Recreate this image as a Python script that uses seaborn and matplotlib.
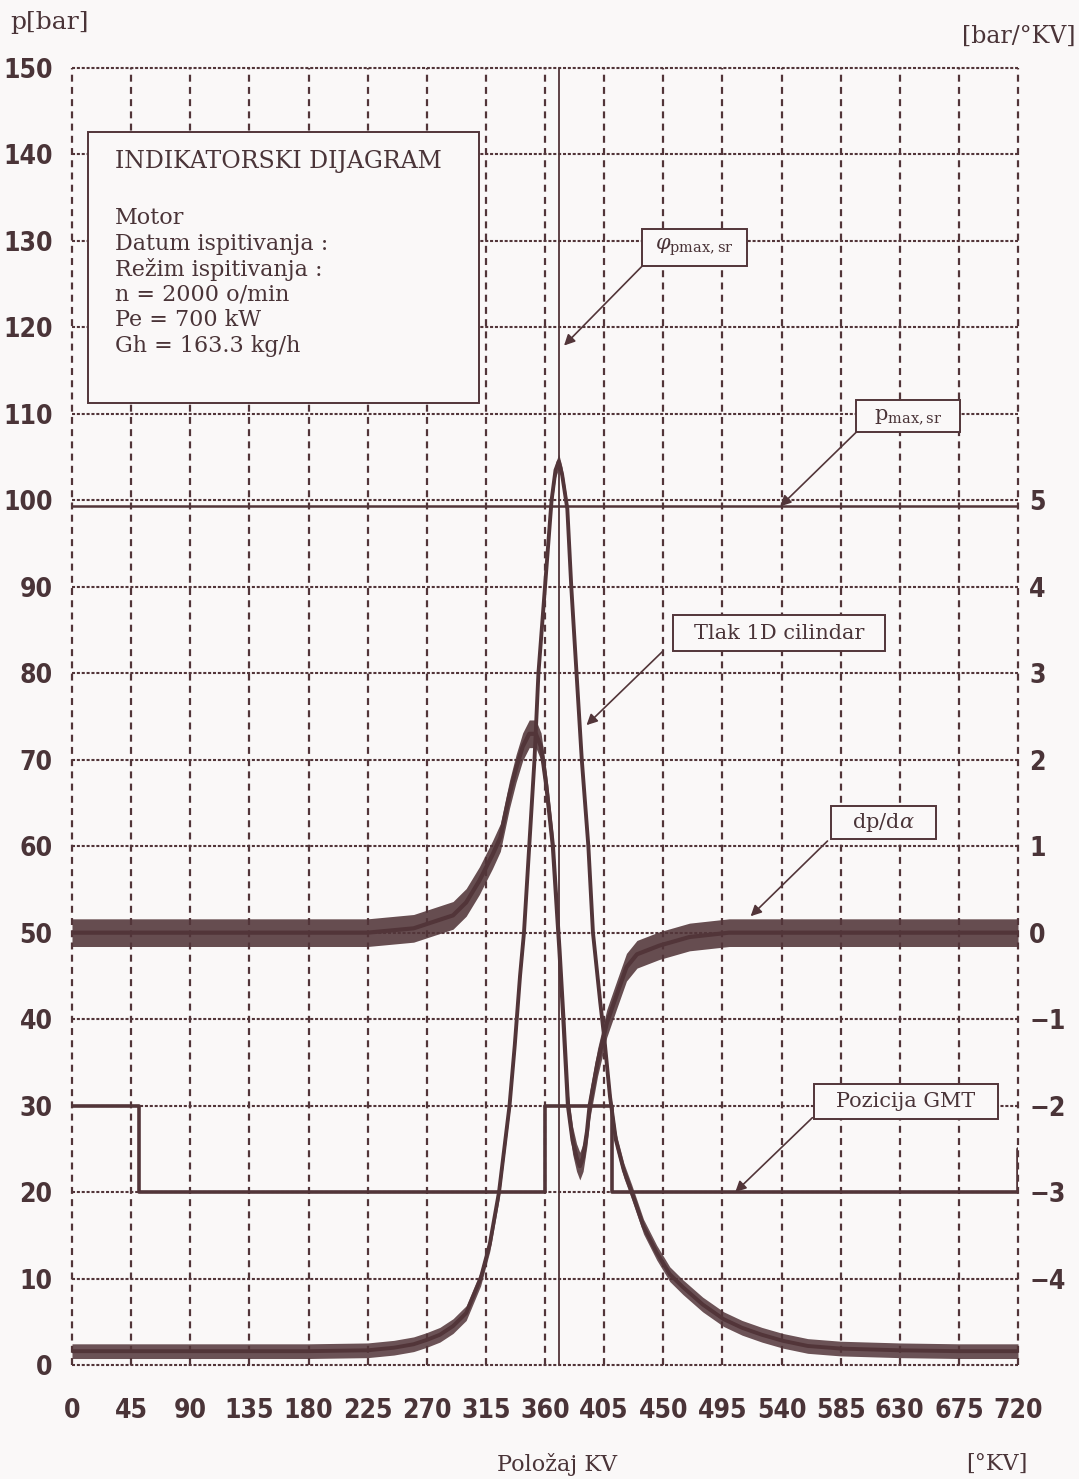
import numpy as np
import matplotlib.pyplot as plt
import matplotlib.patches as mpatches
from matplotlib import font_manager
import pandas as pd
import seaborn as sns

# tlak u cilindru 1D [bar], ocitano s dijagrama
kut_p = [0, 45, 90, 135, 180, 225, 245, 260, 270, 280, 290, 300, 311, 318,
         325, 329, 333, 337, 341, 344, 348, 352, 355, 360, 365, 368, 370.5,
         373, 377, 380, 384, 388, 393, 396.5, 402, 405, 409.5, 414, 420, 426,
         435, 445, 455, 465, 480, 496, 510, 525, 541, 560, 585, 630, 675, 720]
tlak_p = [1.6, 1.6, 1.6, 1.6, 1.6, 1.7, 2.0, 2.4, 2.9, 3.5, 4.5, 6.0, 10.0, 14.0,
          20.0, 25.0, 30.0, 37.0, 45.0, 50.0, 60.0, 70.0, 80.0, 90.0, 100.0, 103.5, 104.5,
          103.0, 99.0, 90.0, 80.0, 70.0, 60.0, 50.0, 42.0, 38.0, 31.0, 26.0, 22.5, 20.0,
          16.0, 13.0, 10.5, 9.0, 7.0, 5.3, 4.3, 3.5, 2.8, 2.2, 1.9, 1.7, 1.6, 1.6]

# dp/dalfa [bar/°KV]
kut_dp = [0, 45, 90, 135, 180, 225, 260, 280, 290, 300, 310, 320, 326, 333,
          338, 343, 348, 353, 357, 361, 366, 371, 374, 377.5, 381, 384, 386.5,
          389, 392, 394, 400, 407, 415, 422, 430, 447, 470, 500, 585, 720]
dp_dalfa = [0.0, 0.0, 0.0, 0.0, 0.0, 0.0, 0.05, 0.15, 0.2, 0.35, 0.6, 0.9, 1.1, 1.6,
            1.9, 2.15, 2.3, 2.3, 2.15, 1.7, 1.0, -0.2, -1.0, -2.0, -2.4, -2.6, -2.7,
            -2.6, -2.3, -2.0, -1.5, -1.05, -0.7, -0.4, -0.25, -0.15, -0.05, 0.0, 0.0, 0.0]

# signal pozicije GMT
kut_gmt = [0, 51, 360, 411, 720]
gmt = [30, 20, 30, 20, 25]

x_ticks = list(range(0, 721, 45))
y_ticks = list(range(0, 151, 10))
y2_ticks = list(range(-4, 6))

p_max_sr = 99.3
fi_p_max_sr = 370.7

info_naslov = 'INDIKATORSKI DIJAGRAM'
info_redovi = ['Motor', 'Datum ispitivanja :', 'Režim ispitivanja :',
               'n = 2000 o/min', 'Pe = 700 kW', 'Gh = 163.3 kg/h']

boja = '#523539'
tekst_boja = '#4a3438'
pozadina = '#faf8f8'
serif = ['DejaVu Serif']


def font_brojke():
    # uski masni font za brojke na osima, ako postoji
    datoteke = [f.fname for f in font_manager.fontManager.ttflist]
    for trazi in ['DejaVuSansCondensed-Bold', 'NotoSans-CondensedBold',
                  'LiberationSansNarrow-Bold', 'Roboto_Condensed-Bold',
                  'RobotoCondensed-Bold', 'OpenSans_Condensed-Bold']:
        for f in datoteke:
            if trazi in f:
                return font_manager.FontProperties(fname=f, size=19)
    return font_manager.FontProperties(family='DejaVu Sans', weight='bold', size=17)


def oznaka(ax, tekst, x0, x1, y0, y1, od, vrh):
    ax.add_patch(mpatches.Rectangle((x0, y0), x1 - x0, y1 - y0, fc=pozadina,
                                    ec=boja, lw=1.4, zorder=6))
    ax.text((x0 + x1) / 2, (y0 + y1) / 2, tekst, ha='center', va='center',
            family=serif, fontsize=15, color=tekst_boja, zorder=7)
    ax.annotate('', xy=vrh, xytext=od, zorder=7,
                arrowprops=dict(arrowstyle='-|>', color=boja, lw=1.2,
                                mutation_scale=16, shrinkA=0, shrinkB=0))


def main():
    sns.set_style('white')
    plt.rcParams['lines.scale_dashes'] = False
    plt.rcParams['mathtext.fontset'] = 'dejavuserif'
    fp = font_brojke()

    fig = plt.figure(figsize=(10.79, 14.79), dpi=100, facecolor=pozadina)
    ax = fig.add_axes([72 / 1079, 1 - 1365 / 1479, 946 / 1079, 1297 / 1479])
    ax.set_facecolor(pozadina)
    ax.set_xlim(0, 720)
    ax.set_ylim(0, 150)
    for s in ax.spines.values():
        s.set_visible(False)

    for y in y_ticks:
        ax.axhline(y, color=boja, lw=1.5, dashes=(2.2, 1.3), clip_on=False, zorder=1)
    for x in x_ticks:
        ax.axvline(x, color=boja, lw=1.6, dashes=(5.0, 3.8), clip_on=False, zorder=1)

    ax.axhline(p_max_sr, color=boja, lw=1.8, zorder=2)
    ax.axvline(fi_p_max_sr, color=boja, lw=1.3, zorder=2)

    # tlak
    df_p = pd.DataFrame({'kut': kut_p, 'p': tlak_p})
    ax.fill_between(df_p['kut'], df_p['p'] - 0.85, df_p['p'] + 0.85,
                    color=boja, lw=0, alpha=0.85, zorder=3)
    sns.lineplot(data=df_p, x='kut', y='p', ax=ax, color=boja, lw=2.8, zorder=4)

    # GMT
    sns.lineplot(x=kut_gmt, y=gmt, ax=ax, color=boja, lw=2.6,
                 drawstyle='steps-post', zorder=4)

    # dp/dalfa na desnoj osi
    ax2 = ax.twinx()
    ax2.set_ylim(-5, 10)
    for s in ax2.spines.values():
        s.set_visible(False)
    df_dp = pd.DataFrame({'kut': kut_dp, 'dp': dp_dalfa})
    ax2.fill_between(df_dp['kut'], df_dp['dp'] - 0.16, df_dp['dp'] + 0.16,
                     color=boja, lw=0, alpha=0.88, zorder=3)
    sns.lineplot(data=df_dp, x='kut', y='dp', ax=ax2, color=boja, lw=3.0, zorder=4)

    ax.set_xticks(x_ticks)
    ax.set_xticklabels([str(v) for v in x_ticks], fontproperties=fp, color=tekst_boja)
    ax.set_yticks(y_ticks)
    ax.set_yticklabels([str(v) for v in y_ticks], fontproperties=fp, color=tekst_boja)
    ax2.set_yticks(y2_ticks)
    ax2.set_yticklabels([str(v).replace('-', '\u2212') for v in y2_ticks],
                        fontproperties=fp, color=tekst_boja)
    ax.tick_params(length=0, pad=14)
    ax.tick_params(axis='x', pad=24)
    ax2.tick_params(length=0, pad=8)
    ax.set_xlabel('')
    ax.set_ylabel('')
    ax2.set_ylabel('')

    # info okvir
    ax.add_patch(mpatches.Rectangle((12.4, 111.2), 297.5, 31.4, fc=pozadina,
                                    ec=boja, lw=1.4, zorder=6))
    ax.text(33, 139.2, info_naslov, ha='left', va='center', family=serif,
            fontsize=17, color=tekst_boja, zorder=7)
    for i, red in enumerate(info_redovi):
        ax.text(33, 132.6 - i * 2.95, red, ha='left', va='center', family=serif,
                fontsize=16, color=tekst_boja, zorder=7)

    oznaka(ax, r'$\varphi_{\mathrm{pmax,sr}}$', 434, 514, 127.1, 131.4,
           (434, 127.1), (374.5, 117.9))
    oznaka(ax, r'$\mathrm{p}_{\mathrm{max,sr}}$', 597, 676, 107.9, 111.6,
           (597, 107.9), (539, 99.3))
    oznaka(ax, 'Tlak 1D cilindar', 457.6, 618.7, 82.6, 86.7,
           (450, 82.6), (391.6, 74.0))
    ax2.add_patch(mpatches.Rectangle((578, 1.08), 79.5, 0.39, fc=pozadina,
                                     ec=boja, lw=1.4, zorder=6))
    ax2.text(617.7, 1.275, r'dp/d$\alpha$', ha='center', va='center', family=serif,
             fontsize=15, color=tekst_boja, zorder=7)
    ax2.annotate('', xy=(516.5, 0.19), xytext=(575, 1.06), zorder=7,
                 arrowprops=dict(arrowstyle='-|>', color=boja, lw=1.2,
                                 mutation_scale=16, shrinkA=0, shrinkB=0))
    oznaka(ax, 'Pozicija GMT', 564.8, 704.5, 28.5, 32.5,
           (563.5, 28.6), (504.8, 20.0))

    fig.text(10 / 1079, 1 - 22 / 1479, 'p[bar]', ha='left', va='center',
             family=serif, fontsize=18, color=tekst_boja)
    fig.text(1075 / 1079, 1 - 36 / 1479, '[bar/°KV]', ha='right', va='center',
             family=serif, fontsize=17, color=tekst_boja)
    fig.text(557 / 1079, 1 - 1464 / 1479, 'Položaj KV', ha='center', va='center',
             family=serif, fontsize=16, color=tekst_boja)
    fig.text(997 / 1079, 1 - 1464 / 1479, '[°KV]', ha='center', va='center',
             family=serif, fontsize=16, color=tekst_boja)

    fig.savefig('out.png', dpi=100, facecolor=pozadina)


if __name__ == "__main__":
    main()
